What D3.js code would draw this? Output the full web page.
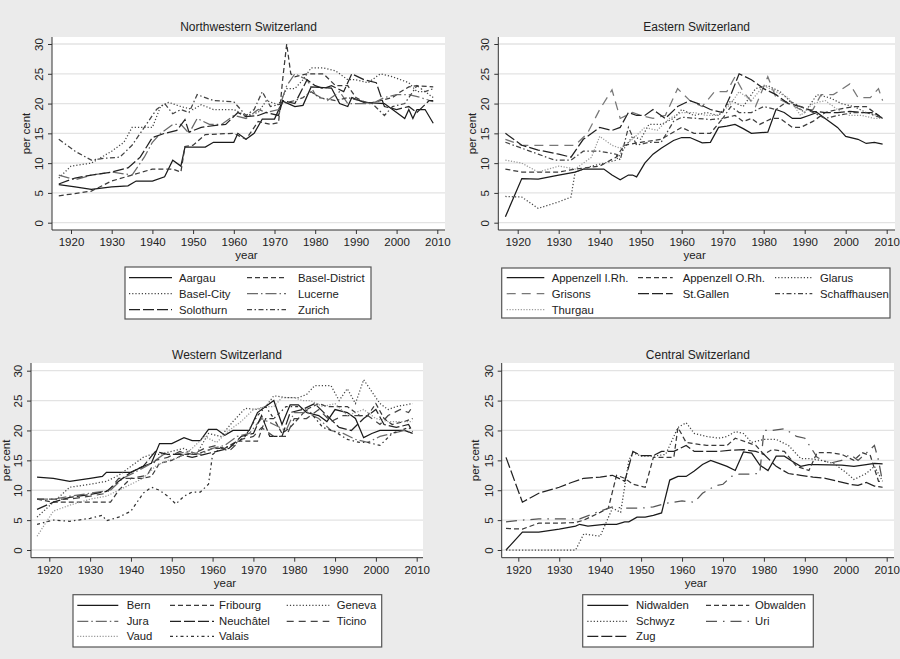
<!DOCTYPE html>
<html lang="en">
<head>
<meta charset="UTF-8">
<title>Cantonal shares, 1917-2009</title>
<script src="https://d3js.org/d3.v7.min.js"></script>
<style>
    body { margin: 0; background: #ebebeb; font-family: 'Liberation Sans', Arial, sans-serif; }
    svg { display: block; }
    .tick-label { font-size: 11.5px; fill: #222; }
    .title { font-size: 12px; fill: #222; }
    .legend-text { font-size: 11.3px; fill: #222; }
</style>
</head>
<body>
<svg id="chart" width="900" height="659"></svg>
<script>
// ---- data: [year, per cent] ----
// Northwestern Switzerland
const aargau = [[1917,6.4],[1921,6],[1925,5.6],[1930,6],[1934,6.2],[1936,7],[1940,7],[1943,7.7],[1945,10.5],[1947,9.5],[1948,12.7],[1953,12.7],[1955,13.5],[1960,13.5],[1961,15],[1963,14],[1965,15],[1967,17.4],[1970,17.4],[1972,20.4],[1975,19.5],[1977,19.7],[1979,22.8],[1984,22.6],[1986,20],[1988,19.5],[1989,21],[1992,20.2],[1997,20],[2000,18.5],[2002,17.5],[2003,19],[2004,17.5],[2005,19],[2007,19],[2009,16.7]];
const baselDistrict = [[1917,4.5],[1925,5.3],[1930,7],[1935,8],[1940,9],[1945,9],[1947,8.5],[1948,12.8],[1950,13],[1953,14.8],[1960,15],[1963,14],[1966,17],[1969,16.5],[1971,16.8],[1972,24],[1973,30],[1974,25],[1975,24.5],[1978,25],[1982,25],[1985,23],[1988,23],[1990,21],[1993,20],[1996,20.5],[1999,21],[2001,22],[2003,22.8],[2005,23],[2009,22.8]];
const baselCity = [[1917,7.5],[1920,9.5],[1925,10],[1930,12],[1933,13.5],[1935,16],[1940,16],[1942,19.5],[1944,20.2],[1947,19.5],[1950,19],[1952,19.8],[1955,19],[1960,19],[1963,18],[1966,18.5],[1968,20.5],[1971,19.8],[1973,22.5],[1975,22.5],[1977,24],[1979,26],[1982,26],[1985,25.5],[1988,24],[1990,24],[1993,23.5],[1996,25],[1999,24.5],[2003,23.5],[2005,22],[2007,22],[2009,21]];
const lucerne = [[1917,8],[1921,7.2],[1925,8],[1930,8.5],[1935,8],[1938,11],[1940,13.5],[1942,15],[1945,16.5],[1947,16.5],[1949,15],[1951,17.5],[1954,16.5],[1957,16.5],[1960,18],[1963,17.5],[1966,19],[1968,18.5],[1971,19],[1973,23],[1975,25],[1978,24],[1980,21.5],[1983,20.5],[1986,22],[1988,20],[1991,20],[1994,20],[1997,21],[2000,21.5],[2003,21.5],[2006,21],[2009,20.3]];
const solothurn = [[1917,6.5],[1921,7.5],[1925,8],[1930,8.5],[1934,9.2],[1937,11],[1940,14.3],[1943,15],[1946,15.5],[1948,17.3],[1949,15.2],[1952,16],[1955,16.3],[1958,16.5],[1961,18.5],[1963,17.8],[1966,18],[1968,18.5],[1971,18],[1972,20.5],[1975,20],[1978,24],[1980,23],[1982,22.5],[1984,23],[1987,22],[1989,25],[1992,24],[1995,23.5],[1997,19.5],[2000,19],[2003,19.5],[2005,18.5],[2008,20.5],[2009,20.5]];
const zurich = [[1917,14],[1921,12],[1925,10.5],[1928,10.8],[1932,11],[1935,13],[1938,16],[1941,19],[1943,20],[1945,18.3],[1947,19],[1949,18.5],[1951,21.5],[1955,20.5],[1960,20.3],[1963,18],[1965,19],[1967,22],[1969,19.5],[1972,20],[1975,20.5],[1977,21],[1979,22],[1981,21],[1985,20.5],[1988,21],[1991,20.5],[1994,20],[1997,18],[1999,19.5],[2002,20],[2005,23],[2007,22],[2009,22.5]];

// Eastern Switzerland
const appenzellIR = [[1917,1],[1921,7.4],[1925,7.3],[1930,8],[1934,8.5],[1936,9],[1941,9],[1943,8],[1945,7.2],[1947,8],[1948,8],[1949,7.7],[1951,10],[1953,11.5],[1955,12.5],[1958,13.8],[1960,14.3],[1962,14.3],[1965,13.4],[1967,13.5],[1969,16],[1971,16.2],[1973,16.5],[1975,15.8],[1977,15],[1981,15.2],[1983,19],[1985,18.5],[1987,17.5],[1989,17.5],[1991,18],[1993,18.5],[1996,17],[1998,16],[2000,14.5],[2003,14],[2005,13.3],[2007,13.5],[2009,13.2]];
const appenzellOR = [[1917,9],[1921,8.5],[1925,8.5],[1930,8.5],[1934,9],[1940,9.5],[1944,11],[1946,13],[1950,13.5],[1955,14],[1960,16],[1963,15],[1967,15],[1970,17.5],[1973,18],[1975,17],[1977,17.5],[1979,16.5],[1982,17.5],[1984,17.5],[1987,16],[1989,16],[1992,17],[1995,18.5],[1998,19],[2002,19.5],[2005,19.5],[2007,18.5],[2009,17.5]];
const glarus = [[1917,4.4],[1921,4.3],[1925,2.4],[1930,3.5],[1933,4.3],[1934,8.5],[1938,9.5],[1941,10],[1944,10.5],[1946,12.5],[1948,14.5],[1950,14],[1952,16.5],[1955,16.5],[1958,17.5],[1960,19],[1963,18],[1966,18.5],[1969,18],[1972,20.5],[1975,19.5],[1978,22.5],[1981,23],[1984,22],[1987,20],[1990,18.5],[1993,21.5],[1996,21],[1999,20],[2002,19.5],[2005,18.5],[2008,18],[2009,17.5]];
const grisons = [[1917,14],[1921,13],[1925,13],[1930,13],[1934,13],[1937,15],[1940,19],[1943,22.3],[1945,17.5],[1948,18.5],[1950,18],[1953,17.5],[1956,18],[1959,22.5],[1962,20.5],[1965,19.5],[1968,22],[1971,22],[1973,24.5],[1975,22],[1978,19.5],[1981,24.5],[1983,21],[1986,20],[1989,19],[1992,19],[1994,21.5],[1997,21.5],[2001,23.3],[2003,21],[2006,21],[2008,22.5],[2009,20.5]];
const stGallen = [[1917,15],[1921,13],[1925,12.2],[1930,11.5],[1933,11],[1936,14],[1940,16],[1943,15.5],[1945,16],[1947,18.5],[1949,18],[1951,18],[1953,19],[1956,17.5],[1959,19.5],[1962,20.5],[1964,20],[1967,19],[1970,18.5],[1972,21.5],[1974,25],[1977,24],[1980,22.5],[1983,21.5],[1986,20],[1989,19.5],[1992,18.7],[1995,18.5],[1998,18.5],[2001,18.7],[2004,18.5],[2007,18.5],[2009,17.5]];
const schaffhausen = [[1917,13.5],[1921,12.5],[1925,11.5],[1929,10.5],[1933,10.5],[1936,12],[1940,12],[1944,11.5],[1945,10.5],[1947,16],[1949,13],[1952,13.5],[1955,13.5],[1958,17],[1960,17.7],[1964,17.5],[1967,17.3],[1970,17.5],[1972,19.5],[1974,18.5],[1977,18.5],[1980,19.5],[1983,19],[1986,20.5],[1989,19.5],[1992,18.5],[1995,17.5],[1998,18],[2002,18.5],[2005,18.5],[2009,17.5]];
const thurgau = [[1917,10.5],[1921,10],[1925,8.5],[1930,9.5],[1934,9],[1938,11],[1940,14.5],[1943,13],[1945,12.5],[1948,14],[1951,16],[1954,15.5],[1957,17.5],[1960,18.5],[1963,18.5],[1966,18],[1969,18],[1972,20],[1974,22],[1977,20.5],[1980,23],[1983,22],[1986,21],[1989,18],[1992,20],[1995,20.5],[1998,19],[2001,18],[2004,18],[2007,17.5],[2009,17.5]];

// Western Switzerland
const bern = [[1917,12.2],[1921,12],[1925,11.5],[1930,12],[1933,12.3],[1934,13],[1940,13],[1943,14],[1945,14.5],[1947,17.8],[1950,17.8],[1953,18.8],[1955,18.3],[1957,18.3],[1959,20.2],[1961,20.2],[1963,19.2],[1965,20],[1969,20],[1971,23],[1973,24],[1975,25],[1977,21],[1979,24.3],[1981,24.3],[1983,23],[1986,22.5],[1988,21.5],[1990,23.5],[1993,23],[1995,22],[1997,18.8],[1999,19.5],[2001,20],[2004,20],[2007,20],[2009,19.5]];
const fribourg = [[1917,8.5],[1921,8],[1925,8],[1930,8],[1935,8],[1937,10],[1940,12],[1943,12],[1945,12.3],[1947,14.5],[1950,15],[1953,16],[1956,16],[1960,17],[1963,17],[1966,18.2],[1971,18.2],[1973,22],[1975,22],[1977,19.5],[1979,20.5],[1981,22],[1983,23.5],[1986,24.5],[1988,24],[1993,24],[1996,22.5],[1998,22.5],[2000,24.5],[2002,22],[2004,21],[2007,21.5],[2009,22]];
const geneva = [[1917,5.5],[1921,8],[1925,10.5],[1930,11],[1934,11.5],[1937,12.5],[1940,14],[1943,15.5],[1945,16],[1947,16],[1950,16.5],[1953,17],[1956,16],[1959,19.5],[1962,19],[1965,21.5],[1968,23.7],[1971,23.5],[1973,24],[1975,25.8],[1978,25.5],[1981,25.5],[1983,26],[1985,27.5],[1989,27.5],[1991,25],[1993,27],[1995,24.5],[1997,28.5],[1999,26.5],[2001,24.5],[2003,23.5],[2005,24],[2009,24.5]];
const jura = [[1917,8.5],[1921,8.5],[1925,9],[1930,9.5],[1935,10],[1938,12],[1941,13],[1945,14.5],[1948,16],[1951,16],[1954,16.5],[1957,16],[1960,17],[1963,17.5],[1966,19],[1969,19.5],[1972,22],[1975,21],[1978,20],[1980,23],[1983,23],[1986,22],[1989,20],[1992,19.5],[1995,18.5],[1998,18],[2001,19],[2004,19.5],[2007,20],[2009,19.5]];
const neuchatel = [[1917,6.8],[1921,8],[1925,8.8],[1930,9.3],[1934,9.8],[1937,11.5],[1940,13],[1943,14],[1946,16.5],[1949,16],[1952,16],[1955,15.5],[1958,16],[1961,16.5],[1964,17],[1967,19],[1970,19.5],[1972,22.5],[1974,19],[1977,19],[1979,23],[1982,23.5],[1985,24.5],[1988,22.5],[1991,20.5],[1994,20],[1997,22],[2000,23.5],[2002,21],[2005,20.5],[2008,21],[2009,19.8]];
const ticino = [[1917,8.5],[1921,8.5],[1925,8.5],[1930,9],[1934,9.5],[1937,12],[1940,12],[1944,12.5],[1946,15],[1949,15.5],[1952,16.5],[1955,16],[1958,17],[1961,17.5],[1964,16.5],[1967,18.5],[1970,19],[1972,20.5],[1975,19],[1978,19],[1980,22],[1983,22],[1986,23.5],[1989,21.5],[1992,22.5],[1998,22.5],[2001,21],[2003,22.5],[2006,23.5],[2008,23],[2009,24]];
const vaud = [[1917,2.3],[1921,6.5],[1925,7.5],[1930,8.5],[1934,9],[1937,10],[1940,11],[1943,12],[1946,14],[1949,15],[1952,15.5],[1955,17],[1958,19],[1961,18],[1964,20],[1967,21.5],[1970,23.5],[1973,24],[1975,24],[1977,25.5],[1980,25.5],[1982,25],[1984,25],[1987,24],[1990,24.5],[1993,22.5],[1995,23],[1997,23.5],[2000,22],[2003,21.5],[2009,21.5]];
const valais = [[1917,4.3],[1921,5],[1925,4.8],[1930,5.3],[1933,5.8],[1934,4.9],[1937,5.5],[1940,6.5],[1943,9.5],[1945,10.5],[1947,10],[1949,9],[1951,7.7],[1953,9],[1955,9.7],[1957,9.7],[1959,11],[1960,16],[1962,17],[1965,17.5],[1968,19],[1971,22.5],[1973,24],[1975,22],[1978,24],[1981,24],[1984,23],[1987,20.5],[1990,19.8],[1993,18.5],[1996,18],[1998,18],[2001,17.5],[2004,19.5],[2006,20],[2008,20.5],[2009,20]];

// Central Switzerland
const nidwalden = [[1917,0],[1921,3],[1925,3],[1930,3.5],[1934,4],[1935,4.3],[1937,4],[1941,4.3],[1944,4.3],[1946,4.7],[1947,4.7],[1949,5.5],[1951,5.5],[1953,5.8],[1955,6.2],[1957,11.7],[1959,12.3],[1961,12.3],[1963,13.2],[1965,14.3],[1967,15],[1969,14.5],[1971,14],[1973,13.3],[1975,16.4],[1977,16.2],[1979,14.2],[1981,13.3],[1983,15.7],[1985,15.7],[1987,14.8],[1989,14],[1991,14.3],[1993,14.3],[1999,14.2],[2002,14],[2005,14.3],[2007,14.5],[2009,14.4]];
const obwalden = [[1917,3.6],[1921,3.5],[1925,4.5],[1930,4.5],[1934,4.6],[1936,5],[1940,6.3],[1942,7],[1944,12.5],[1946,12],[1948,11],[1951,10.5],[1953,15.5],[1958,15.5],[1959,20.5],[1961,18],[1963,17.8],[1966,17.5],[1971,17.5],[1973,18.7],[1976,18],[1978,17.5],[1980,16],[1982,16.8],[1985,16.5],[1988,14],[1991,13.3],[1993,16.3],[1996,16.3],[1999,16],[2002,15],[2004,16.3],[2006,15.8],[2008,11.5],[2009,11.5]];
const schwyz = [[1917,0],[1934,0],[1936,2.7],[1940,2.3],[1943,7],[1945,6.3],[1947,15],[1948,16.3],[1950,15.7],[1953,15.7],[1956,16],[1959,20.5],[1961,21.3],[1963,19.5],[1966,19],[1969,18.7],[1971,19],[1973,19.8],[1975,19.5],[1977,18],[1980,18.5],[1983,18.5],[1986,17.5],[1989,15.3],[1991,15.3],[1994,15],[1997,14.5],[2000,13],[2002,11.8],[2005,12.8],[2007,14],[2009,11.5]];
const uri = [[1917,4.7],[1921,5],[1925,5.2],[1935,5.2],[1938,6],[1940,6.5],[1943,7.2],[1946,7],[1950,7],[1953,7.2],[1956,7.8],[1960,8.2],[1963,8],[1965,9.5],[1968,10.7],[1970,11],[1972,12.3],[1974,12.7],[1976,12.7],[1979,12.8],[1980,20],[1982,20],[1985,20.3],[1988,19],[1990,18.7],[1993,15.5],[1996,14.5],[1999,15],[2001,16],[2003,15],[2005,16.2],[2007,17.5],[2008,15],[2009,11.3]];
const zug = [[1917,15.5],[1921,8],[1925,9.5],[1930,10.5],[1933,11.3],[1936,12],[1940,12.2],[1943,12.5],[1946,11.5],[1948,16.5],[1950,15.8],[1953,15.8],[1955,16.5],[1958,16.5],[1961,17.5],[1963,16.5],[1969,16.5],[1972,16.7],[1975,16.8],[1978,16.5],[1980,16],[1983,14],[1986,12.8],[1989,12.5],[1992,12.2],[1995,12],[1998,11.5],[2001,11],[2003,10.8],[2005,11.3],[2007,10.7],[2009,10.5]];

// ---- labels and ticks ----
const panelTitles = ["Northwestern Switzerland", "Eastern Switzerland", "Western Switzerland", "Central Switzerland"];
const nwNames = ["Aargau", "Basel-District", "Basel-City", "Lucerne", "Solothurn", "Zurich"];
const eNames = ["Appenzell I.Rh.", "Appenzell O.Rh.", "Glarus", "Grisons", "St.Gallen", "Schaffhausen", "Thurgau"];
const wNames = ["Bern", "Fribourg", "Geneva", "Jura", "Neuchâtel", "Ticino", "Vaud", "Valais"];
const cNames = ["Nidwalden", "Obwalden", "Schwyz", "Uri", "Zug"];
const xTicks = [1920, 1930, 1940, 1950, 1960, 1970, 1980, 1990, 2000, 2010];
const yTicks = [0, 5, 10, 15, 20, 25, 30];

// line styles (Stata mono scheme look)
const styles = {
    solid:     { dash: null,            color: "#1a1a1a" },
    dash:      { dash: "5,3",           color: "#3a3a3a" },
    dot:       { dash: "1.2,2",         color: "#444" },
    ldashdot:  { dash: "11,3,1.5,3",    color: "#6a6a6a" },
    ldash:     { dash: "11,3",          color: "#222" },
    dashdot:   { dash: "5,2.5,1.5,2.5", color: "#444" },
    gapdash:   { dash: "9,6",           color: "#777" },
    lightdot:  { dash: "1.2,1.6",       color: "#999" },
    dashgap:   { dash: "7,5",           color: "#444" },
    dashdot2:  { dash: "3,3,1.5,3",     color: "#333" },
    uridash:   { dash: "11,6,1.5,6",    color: "#555" }
};

const panels = [
    { title: panelTitles[0], names: nwNames, series: [aargau, baselDistrict, baselCity, lucerne, solothurn, zurich],
      kinds: ["solid", "dash", "dot", "ldashdot", "ldash", "dashdot"],
      left: 52, right: 445, top: 37, bottom: 230, x1920: 71, x2010: 437.3, y0: 222.7, y30: 44,
      titleY: 31, perCentX: 30,
      legend: { x0: 125, y0: 267, x1: 371, y1: 319, cols: [[129, 172, 179], [247, 286, 298]], rows: [277.7, 293.7, 309.7], ncol: 2 } },
    { title: panelTitles[1], names: eNames, series: [appenzellIR, appenzellOR, glarus, grisons, stGallen, schaffhausen, thurgau],
      kinds: ["solid", "dash", "dot", "gapdash", "ldash", "dashdot", "lightdot"],
      left: 498.3, right: 895, top: 37, bottom: 230, x1920: 517.7, x2010: 886.7, y0: 222.7, y30: 44,
      titleY: 31, perCentX: 476,
      legend: { x0: 501.7, y0: 268, x1: 890, y1: 318, cols: [[506.7, 544.3, 551.7], [638, 672.7, 682.7], [775, 812.3, 820]], rows: [277.7, 293.7, 309.7], ncol: 3 } },
    { title: panelTitles[2], names: wNames, series: [bern, fribourg, geneva, jura, neuchatel, ticino, vaud, valais],
      kinds: ["solid", "dash", "dot", "ldashdot", "ldash", "dashgap", "lightdot", "dashdot2"],
      left: 31, right: 423, top: 363, bottom: 557.7, x1920: 49.3, x2010: 416.7, y0: 550, y30: 370.7,
      titleY: 359, perCentX: 10,
      legend: { x0: 73, y0: 594.7, x1: 381.7, y1: 647, cols: [[77.3, 118.3, 126.7], [170, 214, 219], [286.7, 329.3, 336.7]], rows: [605.3, 621.3, 636.3], ncol: 3 } },
    { title: panelTitles[3], names: cNames, series: [nidwalden, obwalden, schwyz, uri, zug],
      kinds: ["solid", "dash", "dot", "uridash", "ldash"],
      left: 501.7, right: 894, top: 363, bottom: 557.7, x1920: 518.3, x2010: 886.7, y0: 550, y30: 370.7,
      titleY: 359, perCentX: 479,
      legend: { x0: 582.7, y0: 594.7, x1: 813.3, y1: 647, cols: [[587.3, 628.3, 636], [706, 749.3, 755]], rows: [605.3, 621.3, 636.3], ncol: 2 } }
];

const svg = d3.select("#chart");
svg.append("rect").attr("width", 900).attr("height", 659).attr("fill", "#ebebeb");

panels.forEach(p => {
    const x = d3.scaleLinear().domain([1920, 2010]).range([p.x1920, p.x2010]);
    const y = d3.scaleLinear().domain([0, 30]).range([p.y0, p.y30]);
    const g = svg.append("g").attr("class", "panel");

    // plot region
    g.append("rect")
        .attr("x", p.left).attr("y", p.top)
        .attr("width", p.right - p.left).attr("height", p.bottom - p.top)
        .attr("fill", "#fff");

    // gridlines
    g.selectAll(".grid").data(yTicks).join("line")
        .attr("x1", p.left).attr("x2", p.right)
        .attr("y1", d => y(d)).attr("y2", d => y(d))
        .attr("stroke", "#e3e3e3").attr("stroke-width", 1.3);

    // series
    const line = d3.line().x(d => x(d[0])).y(d => y(d[1]));
    p.series.forEach((s, i) => {
        const st = styles[p.kinds[i]];
        g.append("path")
            .datum(s)
            .attr("d", line)
            .attr("fill", "none")
            .attr("stroke", st.color)
            .attr("stroke-width", 1.25)
            .attr("stroke-dasharray", st.dash);
    });

    // axes
    const xAxis = d3.axisBottom(x).tickValues(xTicks).tickSize(4).tickFormat(d3.format("d"));
    const ax = g.append("g").attr("transform", `translate(0,${p.bottom})`).call(xAxis);
    ax.select(".domain").attr("d", `M${p.left},0H${p.right}`).attr("stroke", "#333");
    ax.selectAll(".tick line").attr("stroke", "#333");
    ax.selectAll(".tick text").attr("class", "tick-label").attr("dy", null).attr("y", 16)
        .style("font-family", "'Liberation Sans', Arial, sans-serif");

    const yAxis = d3.axisLeft(y).tickValues(yTicks).tickSize(4);
    const ay = g.append("g").attr("transform", `translate(${p.left},0)`).call(yAxis);
    ay.select(".domain").attr("d", `M0,${p.top}V${p.bottom}`).attr("stroke", "#333");
    ay.selectAll(".tick line").attr("stroke", "#333");
    ay.selectAll(".tick text")
        .attr("class", "tick-label")
        .attr("x", null).attr("dy", null)
        .attr("text-anchor", "middle")
        .attr("transform", "translate(-9,0) rotate(-90)")
        .style("font-family", "'Liberation Sans', Arial, sans-serif");

    // axis titles
    g.append("text").attr("class", "tick-label")
        .attr("x", (p.left + p.right) / 2 - 2).attr("y", p.bottom + 29)
        .attr("text-anchor", "middle").text("year");
    g.append("text").attr("class", "tick-label")
        .attr("transform", `translate(${p.perCentX},${(p.top + p.bottom) / 2}) rotate(-90)`)
        .attr("text-anchor", "middle").text("per cent");

    // title
    g.append("text").attr("class", "title")
        .attr("x", (p.left + p.right) / 2).attr("y", p.titleY)
        .attr("text-anchor", "middle").text(p.title);

    // legend
    const L = p.legend;
    g.append("rect")
        .attr("x", L.x0).attr("y", L.y0)
        .attr("width", L.x1 - L.x0).attr("height", L.y1 - L.y0)
        .attr("fill", "#fff").attr("stroke", "#555").attr("stroke-width", 1.2);
    p.names.forEach((name, i) => {
        const c = L.cols[i % L.ncol];
        const ry = L.rows[Math.floor(i / L.ncol)];
        const st = styles[p.kinds[i]];
        g.append("line")
            .attr("x1", c[0]).attr("x2", c[1]).attr("y1", ry).attr("y2", ry)
            .attr("stroke", st.color).attr("stroke-width", 1.25)
            .attr("stroke-dasharray", st.dash);
        g.append("text").attr("class", "legend-text")
            .attr("x", c[2]).attr("y", ry + 4).text(name);
    });
});
</script>
</body>
</html>
